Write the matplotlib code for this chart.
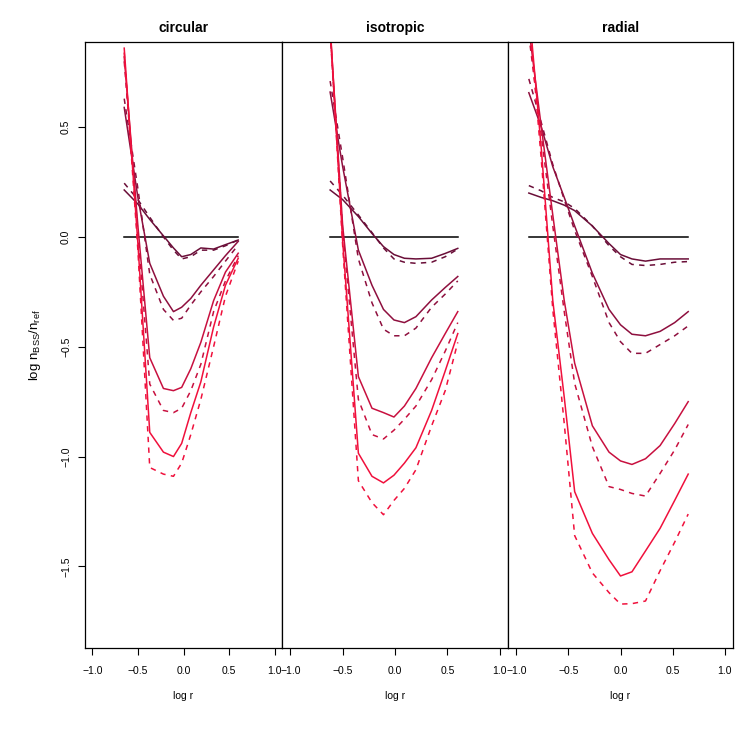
import matplotlib
matplotlib.use("Agg")
import matplotlib.pyplot as plt
import numpy as np

plt.rcParams['font.family'] = ['Liberation Sans', 'DejaVu Sans']

# panel names
panels = ['circular', 'isotropic', 'radial']

# log r of the bins, one grid per panel
x_circ = [-0.65, -0.50, -0.37, -0.22, -0.11, -0.02, 0.08, 0.19, 0.33, 0.46, 0.60]
x_iso = [-0.62, -0.50, -0.35, -0.22, -0.11, -0.01, 0.09, 0.20, 0.35, 0.48, 0.60]
x_rad = [-0.88, -0.76, -0.65, -0.54, -0.44, -0.27, -0.11, 0.00, 0.11, 0.24, 0.38, 0.52, 0.65]

# log n_BSS/n_ref, four groups (dark -> bright), solid and dashed
circ_solid = [
    [0.214, 0.15, 0.08, 0.005, -0.05, -0.09, -0.08, -0.05, -0.055, -0.035, -0.014],
    [0.59, 0.18, -0.12, -0.27, -0.34, -0.32, -0.28, -0.22, -0.15, -0.085, -0.02],
    [0.82, 0.05, -0.55, -0.69, -0.70, -0.685, -0.60, -0.48, -0.29, -0.16, -0.074],
    [0.86, -0.03, -0.89, -0.98, -1.00, -0.94, -0.80, -0.66, -0.41, -0.22, -0.097],
]
circ_dashed = [
    [0.245, 0.17, 0.09, 0.0, -0.06, -0.10, -0.09, -0.06, -0.06, -0.04, -0.014],
    [0.63, 0.22, -0.17, -0.33, -0.38, -0.37, -0.31, -0.25, -0.18, -0.11, -0.036],
    [0.80, 0.02, -0.67, -0.79, -0.80, -0.78, -0.70, -0.58, -0.34, -0.20, -0.085],
    [0.84, -0.06, -1.05, -1.08, -1.09, -1.03, -0.90, -0.74, -0.50, -0.27, -0.11],
]
iso_solid = [
    [0.214, 0.17, 0.093, 0.016, -0.044, -0.08, -0.097, -0.10, -0.097, -0.075, -0.052],
    [0.66, 0.32, -0.06, -0.22, -0.33, -0.378, -0.39, -0.363, -0.287, -0.23, -0.18],
    [0.95, 0.05, -0.636, -0.78, -0.80, -0.82, -0.77, -0.69, -0.55, -0.44, -0.34],
    [0.97, -0.02, -0.985, -1.09, -1.12, -1.085, -1.03, -0.96, -0.79, -0.61, -0.44],
]
iso_dashed = [
    [0.255, 0.19, 0.10, 0.02, -0.05, -0.10, -0.115, -0.12, -0.115, -0.09, -0.055],
    [0.71, 0.36, -0.10, -0.30, -0.42, -0.45, -0.45, -0.415, -0.32, -0.26, -0.20],
    [0.93, 0.03, -0.74, -0.90, -0.92, -0.88, -0.83, -0.77, -0.65, -0.52, -0.39],
    [0.95, -0.04, -1.11, -1.21, -1.265, -1.20, -1.145, -1.06, -0.86, -0.70, -0.48],
]
rad_solid = [
    [0.20, 0.18, 0.165, 0.145, 0.12, 0.05, -0.03, -0.08, -0.10, -0.11, -0.10, -0.10, -0.10],
    [0.657, 0.50, 0.32, 0.18, 0.05, -0.165, -0.33, -0.40, -0.443, -0.45, -0.43, -0.39, -0.34],
    [0.95, 0.50, 0.10, -0.29, -0.575, -0.86, -0.98, -1.02, -1.036, -1.01, -0.95, -0.85, -0.75],
    [1.05, 0.40, -0.29, -0.73, -1.16, -1.35, -1.47, -1.544, -1.525, -1.43, -1.327, -1.20, -1.08],
]
rad_dashed = [
    [0.234, 0.21, 0.18, 0.16, 0.13, 0.05, -0.04, -0.09, -0.125, -0.13, -0.125, -0.115, -0.112],
    [0.72, 0.52, 0.33, 0.17, 0.03, -0.18, -0.39, -0.477, -0.53, -0.53, -0.49, -0.45, -0.405],
    [0.92, 0.46, 0.05, -0.34, -0.667, -0.955, -1.137, -1.15, -1.168, -1.18, -1.077, -0.97, -0.854],
    [1.02, 0.35, -0.33, -0.85, -1.36, -1.53, -1.62, -1.672, -1.67, -1.658, -1.52, -1.39, -1.262],
]

colors = ['#6a0e38', '#8e0f3e', '#c8103f', '#f0103c']

x_ticks = [-1.0, -0.5, 0.0, 0.5, 1.0]
y_ticks = [-1.5, -1.0, -0.5, 0.0, 0.5]

x_data = [x_circ, x_iso, x_rad]
solid_data = [circ_solid, iso_solid, rad_solid]
dashed_data = [circ_dashed, iso_dashed, rad_dashed]


def lab(v):
    return ('%.1f' % v).replace('-', '\u2212')


fig = plt.figure(figsize=(7.47, 7.47), dpi=100)
W = 747.0
bottom = 1 - 648 / W
height = (648 - 42) / W
edges = [85, 282, 508, 733]

for i in range(3):
    ax = fig.add_axes([edges[i] / W, bottom, (edges[i + 1] - edges[i]) / W, height])
    xs = x_data[i]
    ax.plot([xs[0], xs[-1]], [0, 0], color='black', lw=1.1)
    for k in range(4):
        ax.plot(xs, solid_data[i][k], color=colors[k], lw=1.1)
        ax.plot(xs, dashed_data[i][k], color=colors[k], lw=1.1, ls=(0, (3.5, 3.5)))

    ax.set_xlim(-1.08, 1.08)
    ax.set_ylim(-1.872, 0.888)
    ax.set_xticks(x_ticks)
    ax.set_xticklabels([lab(v) for v in x_ticks])
    ax.tick_params(axis='x', direction='out', length=5, width=0.8, pad=8, labelsize=7.5)
    ax.set_xlabel('log r', fontsize=7.5, labelpad=11)
    ax.set_title(panels[i], fontsize=10, fontweight='bold', pad=7)
    for sp in ax.spines.values():
        sp.set_linewidth(0.9)
    if i == 0:
        ax.set_yticks(y_ticks)
        ax.set_yticklabels([lab(v) for v in y_ticks], rotation=90, va='center')
        ax.tick_params(axis='y', direction='out', length=5, width=0.8, pad=5, labelsize=7.5)
        ax.set_ylabel(r'log n$_{\mathregular{BSS}}$/n$_{\mathregular{ref}}$', fontsize=9.5, labelpad=13)
    else:
        ax.set_yticks([])

fig.savefig('out.png', dpi=100)
